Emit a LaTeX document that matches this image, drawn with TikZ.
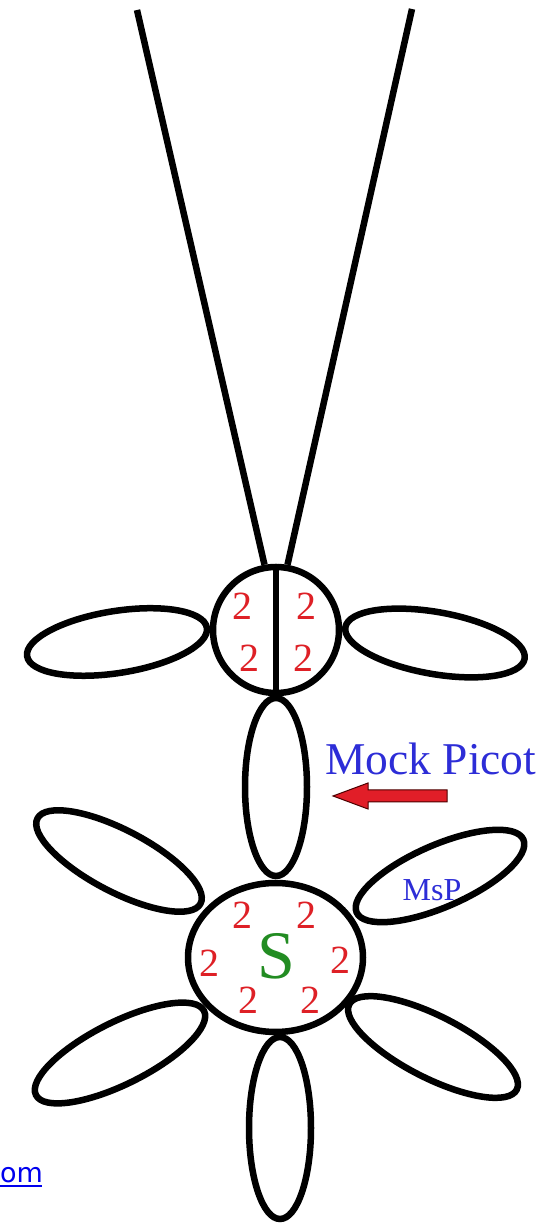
\documentclass[tikz,border=0pt]{standalone}
\usepackage{fontspec}
\setmainfont{Liberation Serif}
\newfontfamily\linkfont{DejaVu Sans}
\usetikzlibrary{shapes.geometric}
\definecolor{numred}{RGB}{222,32,38}
\definecolor{mpblue}{RGB}{45,45,215}
\definecolor{sgreen}{RGB}{34,140,34}
\definecolor{arrred}{RGB}{225,30,40}
\definecolor{linkblue}{RGB}{0,0,238}
\begin{document}
\begin{tikzpicture}[x=1pt,y=1pt,
  lw/.style={line width=6.5pt},
  lobe/.style={ellipse, draw, line width=6.5pt, inner sep=0pt, fill=white},
  ring/.style={draw, line width=6.5pt, inner sep=0pt, fill=white},
  two/.style={inner sep=0pt, text=numred, font=\fontsize{40}{40}\selectfont},
  twob/.style={inner sep=0pt, text=numred, font=\fontsize{40}{40}\selectfont}]
\useasboundingbox (0,0) rectangle (550,1223);
% lobes
\node[lobe, minimum width=182, minimum height=62, rotate=9] (tl) at (117,581) {};
\node[lobe, minimum width=182, minimum height=62, rotate=-10] (tr) at (435,580) {};
\node[lobe, minimum width=62, minimum height=178] (mid) at (276,436) {};
\node[lobe, minimum width=184, minimum height=62, rotate=-27.6] (ul) at (119,362) {};
\node[lobe, minimum width=182, minimum height=62, rotate=23.6] (ur) at (440,347) {};
\node[lobe, minimum width=188, minimum height=62, rotate=26.6] (ll) at (120,170) {};
\node[lobe, minimum width=188, minimum height=62, rotate=-27] (lr) at (433,176) {};
\node[lobe, minimum width=62, minimum height=182] (bot) at (280,95) {};
% circles
\node[ring, circle, minimum size=126] (tc) at (276,593) {};
\node[ring, ellipse, minimum width=175, minimum height=149] (bc) at (275.5,265.5) {};
% top lines
\coordinate (lt) at (137,1213);
\coordinate (rt) at (412,1214);
\draw[lw] (lt) -- (tc.100);
\draw[lw] (rt) -- (tc.80);
\draw[lw] (tc.north) -- (tc.south);
% numbers top circle
\node[two] (a1) at (242.7,616.3) {2};
\node[two] (a2) at (249,565) {2};
\node[two] (a3) at (306.7,616.3) {2};
\node[two] (a4) at (303,565) {2};
% bottom circle
\node[twob] (b1) at (242.7,308) {2};
\node[twob] (b2) at (306,308) {2};
\node[twob] (b3) at (209.3,260) {2};
\node[twob] (b4) at (340,263) {2};
\node[twob] (b5) at (248.3,223) {2};
\node[twob] (b6) at (310,223) {2};
\node[inner sep=0pt, text=sgreen, font=\fontsize{68}{68}\selectfont] (s) at (276.7,266.3) {S};
% labels
\node[inner sep=0pt, anchor=base west, text=mpblue, font=\fontsize{45.5}{45.5}\selectfont] (mp) at (325,448) {Mock Picot};
\node[inner sep=0pt, text=mpblue, font=\fontsize{32}{32}\selectfont] (msp) at (432,333) {MsP};
% arrow
\coordinate (atail) at (447,427);
\coordinate (ahead) at (333,427);
\draw[fill=arrred, draw=black!70!red, line width=1pt]
  (atail) ++(0,6) -- (368,433) -- (368,440) -- (ahead) -- (368,414) -- (368,421) -- (447,421) -- cycle;
% link fragment
\node[inner sep=0pt, anchor=base west, text=linkblue, font=\linkfont\fontsize{27}{27}\selectfont] (om) at (0,40) {om};
\draw[linkblue, line width=2pt] (om.base west) ++(0,-3) -- ++(42,0);
\end{tikzpicture}
\end{document}
